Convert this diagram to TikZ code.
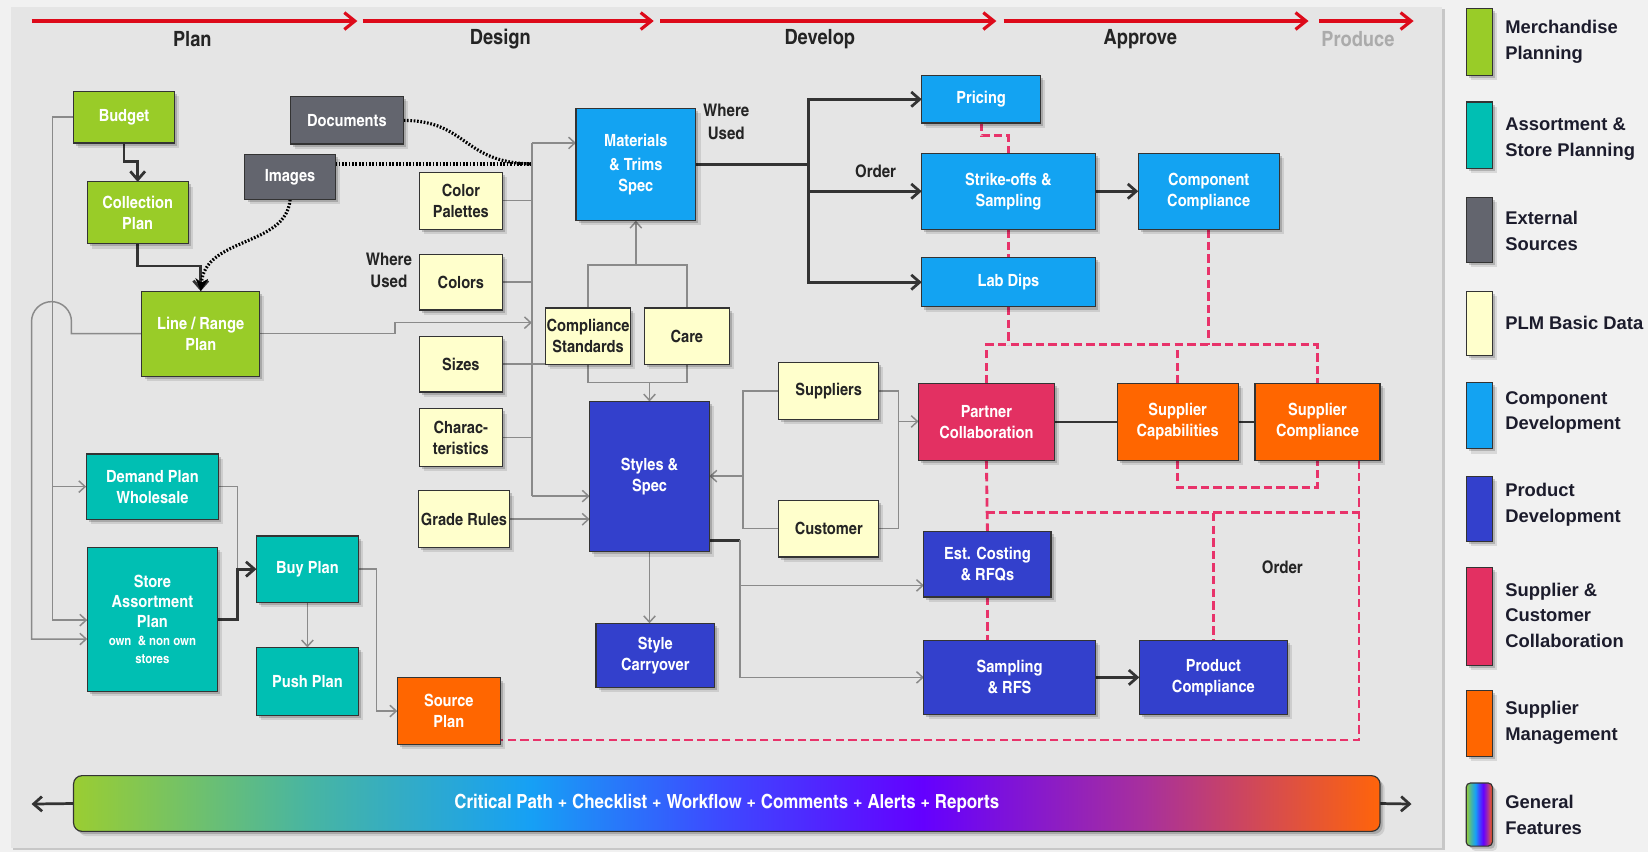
\documentclass[tikz,border=0pt]{standalone}
\usepackage{fontspec}
\setmainfont{Liberation Sans}
\newfontfamily\cnf{texgyreheroscn-bold.otf}[FakeStretch=1.06]
\newfontfamily\lgf{Liberation Sans}
\usetikzlibrary{arrows.meta,shadows}
\pgfdeclarelayer{back}
\pgfdeclarelayer{lines}
\pgfsetlayers{back,lines,main}

\definecolor{cOuter}{HTML}{F1F1F1}
\definecolor{cPanel}{HTML}{E5E5E5}
\definecolor{cLine}{HTML}{333333}
\definecolor{cGray}{HTML}{8A8A8A}
\definecolor{cDark}{HTML}{242424}
\definecolor{cLgText}{HTML}{1C1C2C}
\definecolor{cRed}{HTML}{DD0A1A}
\definecolor{cPink}{HTML}{E8336A}
\definecolor{cMerch}{HTML}{99CC28}
\definecolor{cAssort}{HTML}{00BFB3}
\definecolor{cExt}{HTML}{63656E}
\definecolor{cPLM}{HTML}{FFFFCC}
\definecolor{cComp}{HTML}{13A3F2}
\definecolor{cProd}{HTML}{3340CC}
\definecolor{cCollab}{HTML}{E33062}
\definecolor{cSupMgmt}{HTML}{FF6600}
% colours of the "general features" band
\definecolor{fgA}{HTML}{9ACD32}
\definecolor{fgB}{HTML}{48B5A2}
\definecolor{fgC}{HTML}{16A0F5}
\definecolor{fgD}{HTML}{3C4CFF}
\definecolor{fgE}{HTML}{6400FF}
\definecolor{fgF}{HTML}{A8309C}
\definecolor{fgG}{HTML}{FF640A}
\pgfdeclarehorizontalshading{featbar}{100bp}{color(0bp)=(fgA); color(25bp)=(fgA); color(34bp)=(fgB); color(42.5bp)=(fgC); color(49.5bp)=(fgD); color(57.5bp)=(fgE); color(66bp)=(fgF); color(75bp)=(fgG); color(100bp)=(fgG)}

\begin{document}
\begin{tikzpicture}[x=1pt,y=-1pt,
  font=\cnf\fontsize{16}{20}\selectfont,
  softshadow/.style={
    general shadow={fill=black, opacity=.10, shadow xshift=4.5pt, shadow yshift=-4.5pt},
    general shadow={fill=black, opacity=.18, shadow xshift=2.5pt, shadow yshift=-2.5pt}},
  box/.style={draw=cLine, line width=1.1pt, inner sep=2pt, outer sep=0pt,
    anchor=north west, align=center, text=white, softshadow},
  mpbox/.style={box, fill=cMerch},
  asbox/.style={box, fill=cAssort},
  exbox/.style={box, fill=cExt},
  plbox/.style={box, fill=cPLM, text=cDark},
  cdbox/.style={box, fill=cComp},
  pdbox/.style={box, fill=cProd},
  scbox/.style={box, fill=cCollab},
  smbox/.style={box, fill=cSupMgmt},
  gline/.style={draw=cGray, line width=1.4pt},
  garrow/.style={gline, -{Straight Barb[length=6pt,width=11pt]}},
  dline/.style={draw=cLine, line width=2.6pt},
  darrow/.style={dline, -{Straight Barb[length=8pt,width=14pt]}},
  pdash/.style={draw=cPink, line width=2.7pt, dash pattern=on 8pt off 4pt},
  dotline/.style={draw=black, line width=3pt, dash pattern=on 1.6pt off 1.6pt},
  phase/.style={draw=cRed, line width=3pt, -{Straight Barb[length=10pt,width=16pt]}},
  phlabel/.style={font=\cnf\fontsize{20}{22}\selectfont, text=cDark},
  note/.style={font=\cnf\fontsize{16.5}{21}\selectfont, text=cDark, align=center, inner sep=0pt},
  lgbox/.style={box, minimum width=25pt},
  lgtext/.style={anchor=west, align=left, inner sep=0pt, text=cLgText,
    font=\lgf\bfseries\fontsize{17.5}{24.5}\selectfont}
]
\useasboundingbox (0,0) rectangle (1568,811);

% ---------- page and panel ----------
\begin{pgfonlayer}{back}
  \fill[cOuter] (0,0) rectangle (1568,811);
  \fill[black!22] (12,9) rectangle (1375,809);
  \fill[cPanel] (10,7) rectangle (1372,807);
\end{pgfonlayer}

% ---------- phases ----------
\draw[phase] (30,20) -- (340,20);
\draw[phase] (345,20) -- (622,20);
\draw[phase] (628,20) -- (948,20);
\draw[phase] (955,20) -- (1245,20);
\draw[phase] (1255,20) -- (1345,20);
\node[phlabel] (phPlan) at (183,37) {Plan};
\node[phlabel] (phDesign) at (476,37) {Design};
\node[phlabel] (phDevelop) at (780,37) {Develop};
\node[phlabel] (phApprove) at (1085,37) {Approve};
\node[phlabel, text=black!33] (phProduce) at (1292,37) {Produce};

% ---------- merchandise planning ----------
\node[mpbox, minimum width=96pt, minimum height=49pt] (budget) at (70,87) {Budget};
\node[mpbox, minimum width=96pt, minimum height=59pt] (collection) at (83,173) {Collection\\Plan};
\node[mpbox, minimum width=112pt, minimum height=81pt] (linerange) at (135,277) {Line / Range\\Plan};

% ---------- external sources ----------
\node[exbox, minimum width=108pt, minimum height=45pt] (documents) at (276,92) {Documents};
\node[exbox, minimum width=86pt, minimum height=43pt] (images) at (233,147) {Images};

% ---------- PLM basic data ----------
\node[plbox, minimum width=79pt, minimum height=54pt] (colorpal) at (399,164) {Color\\Palettes};
\node[plbox, minimum width=79pt, minimum height=53pt] (colors) at (399,242) {Colors};
\node[plbox, minimum width=79pt, minimum height=53pt] (sizes) at (399,320) {Sizes};
\node[plbox, minimum width=79pt, minimum height=55pt] (charac) at (399,389) {Charac-\\teristics};
\node[plbox, minimum width=87pt, minimum height=54pt] (grade) at (398,467) {Grade Rules};
\node[plbox, minimum width=81pt, minimum height=54pt, inner sep=0pt] (compstd) at (519,293) {Compliance\\Standards};
\node[plbox, minimum width=81pt, minimum height=54pt] (care) at (613,293) {Care};
\node[plbox, minimum width=95pt, minimum height=54pt] (suppliers) at (741,345) {Suppliers};
\node[plbox, minimum width=95pt, minimum height=54pt] (customer) at (741,476) {Customer};

% ---------- component development ----------
\node[cdbox, minimum width=114pt, minimum height=107pt] (materials) at (548,103) {Materials\\[3pt]\& Trims\\Spec};
\node[cdbox, minimum width=113pt, minimum height=45pt] (pricing) at (877,72) {Pricing};
\node[cdbox, minimum width=165pt, minimum height=72pt] (strike) at (877,146) {Strike-offs \&\\Sampling};
\node[cdbox, minimum width=134pt, minimum height=72pt] (compcompl) at (1083,146) {Component\\Compliance};
\node[cdbox, minimum width=165pt, minimum height=47pt] (labdips) at (877,245) {Lab Dips};

% ---------- product development ----------
\node[pdbox, minimum width=114pt, minimum height=143pt] (styles) at (561,382) {Styles \&\\Spec};
\node[pdbox, minimum width=113pt, minimum height=61pt] (carryover) at (567,593) {Style\\Carryover};
\node[pdbox, minimum width=121pt, minimum height=62pt] (estcost) at (879,506) {Est. Costing\\\& RFQs};
\node[pdbox, minimum width=163pt, minimum height=71pt] (sampling) at (879,609) {Sampling\\\& RFS};
\node[pdbox, minimum width=141pt, minimum height=71pt] (prodcompl) at (1084,609) {Product\\Compliance};

% ---------- collaboration and supplier management ----------
\node[scbox, minimum width=129pt, minimum height=73pt] (partner) at (874,365) {Partner\\Collaboration};
\node[smbox, minimum width=115pt, minimum height=73pt] (supcap) at (1063,365) {Supplier\\Capabilities};
\node[smbox, minimum width=119pt, minimum height=73pt] (supcompl) at (1194,365) {Supplier\\Compliance};
\node[smbox, minimum width=98pt, minimum height=63pt] (source) at (378,645) {Source\\Plan};

% ---------- assortment and store planning ----------
\node[asbox, minimum width=97pt, minimum height=63pt] (buy) at (244,510) {Buy Plan};
\node[asbox, minimum width=97pt, minimum height=65pt] (push) at (244,616) {Push Plan};
\node[asbox, minimum width=126pt, minimum height=62pt] (demand) at (82,432) {Demand Plan\\Wholesale};
\node[asbox, minimum width=124pt, minimum height=137pt] (store) at (83,521)
  {Store\\[-1pt]Assortment\\[-1pt]Plan\\[-3pt]{\fontsize{12.5}{16}\selectfont own \ \& non own}\\[-3pt]{\fontsize{12.5}{15}\selectfont stores}};

% ---------- free labels ----------
\node[note] (wuColors) at (370,257) {Where\\Used};
\node[note] (wuMaterials) at (691,116) {Where\\Used};
\node[note] (orderTop) at (833,163) {Order};
\node[note] (orderBottom) at (1220,540) {Order};

% ---------- general features band ----------
\node[draw=cLine, line width=1.1pt, rounded corners=8pt, shade, shading=featbar, shading angle=0,
      minimum width=1243pt, minimum height=53pt, anchor=north west, inner sep=0pt, outer sep=0pt,
      text=white, font=\cnf\fontsize{18.5}{20}\selectfont, softshadow]
  (features) at (70,738) {Critical Path + Checklist + Workflow + Comments + Alerts + Reports};
\coordinate (featL) at (30,765);
\coordinate (featR) at (1343,765);

% ---------- legend ----------
\node[lgbox, fill=cMerch, minimum height=64pt] (lgMerch) at (1395,8) {};
\node[lgbox, fill=cAssort, minimum height=63pt] (lgAssort) at (1395,97) {};
\node[lgbox, fill=cExt, minimum height=62pt] (lgExt) at (1395,188) {};
\node[lgbox, fill=cPLM, minimum height=61pt] (lgPLM) at (1395,277) {};
\node[lgbox, fill=cComp, minimum height=63pt] (lgComp) at (1395,364) {};
\node[lgbox, fill=cProd, minimum height=62pt] (lgProd) at (1395,453) {};
\node[lgbox, fill=cCollab, minimum height=93pt] (lgCollab) at (1395,540) {};
\node[lgbox, fill=cSupMgmt, minimum height=63pt] (lgSupMgmt) at (1395,657) {};
\node[lgbox, shade, shading=featbar, shading angle=0, rounded corners=4pt, minimum height=60pt] (lgGeneral) at (1395,745) {};
\node[lgtext] (lgMerchT) at (1432,40) {Merchandise\\Planning};
\node[lgtext] (lgAssortT) at (1432,132) {Assortment \&\\Store Planning};
\node[lgtext] (lgExtT) at (1432,219.5) {External\\Sources};
\node[lgtext] (lgPLMT) at (1432,307) {PLM Basic Data};
\node[lgtext] (lgCompT) at (1432,392.5) {Component\\Development};
\node[lgtext] (lgProdT) at (1432,480) {Product\\Development};
\node[lgtext] (lgCollabT) at (1432,585.5) {Supplier \&\\Customer\\Collaboration};
\node[lgtext] (lgSupMgmtT) at (1432,688) {Supplier\\Management};
\node[lgtext] (lgGeneralT) at (1432,775.5) {General\\Features};

% ---------- connectors ----------
\coordinate (busTop) at (506,136);
\coordinate (busBot) at (506,472);
\coordinate (busLR) at (506,307);
\coordinate (dotEnd) at (506,156);
\coordinate (lA) at (50,590);
\coordinate (lB) at (30,608);
\coordinate (buyJ) at (226,541.5);
\coordinate (srcJ) at (358,676.5);
\coordinate (ccTop) at (605,252);
\coordinate (ccBot) at (618,364);
\coordinate (scL) at (707,453);
\coordinate (scR) at (855,401);
\coordinate (stJ) at (704,514);
\coordinate (stE) at (704,557);
\coordinate (mJ) at (769,156.5);
\coordinate (yA) at (0,328);
\coordinate (yB) at (0,464);
\coordinate (yC) at (0,488);
\coordinate (yD) at (0,704);
\coordinate (pR) at (1293,0);

\begin{pgfonlayer}{lines}
  % planning chain
  \draw[darrow] (budget.south) -- ++(0,18) -| (collection.north);
  \draw[darrow] (collection.south) -- ++(0,21) -| (linerange.north);
  \draw[dotline, -{Stealth[length=12pt,width=12pt]}] (images.south) .. controls (272,235) and (195,225) .. (linerange.north);
  \draw[dotline] (images.east |- dotEnd) -- (dotEnd);
  \draw[dotline] (documents.east) .. controls (445,115) and (440,155) .. (dotEnd);

  % left feeds into assortment planning
  \draw[garrow] (budget.west) -| (lA) -- (lA -| store.west);
  \draw[garrow] (demand.west -| lA) -- (demand.west);
  \draw[garrow] (linerange.west) -- (68,317.5) -- (68,306) arc[start angle=0, end angle=-180, radius=19] -- (lB) -- (lB -| store.west);
  \draw[gline] (demand.east) -| (buyJ);
  \draw[darrow] (store.east) -| (buyJ) -- (buy.west);
  \draw[garrow] (buy.south) -- (push.north);
  \draw[garrow] (buy.east) -| (srcJ) -- (source.west);

  % basic data bus
  \draw[gline] (busTop) -- (busBot);
  \draw[garrow] (busTop) -- (busTop -| materials.west);
  \draw[garrow] (busBot) -- (busBot -| styles.west);
  \draw[garrow] (linerange.east) -| (376,307) -- (busLR);
  \draw[gline] (colorpal.east) -- (colorpal.east -| busTop);
  \draw[gline] (colors.east) -- (colors.east -| busTop);
  \draw[gline] (sizes.east) -- (sizes.east -| compstd.west);
  \draw[gline] (charac.east) -- (charac.east -| busTop);
  \draw[garrow] (grade.east) -- (grade.east -| styles.west);

  % compliance standards and care
  \draw[gline] (compstd.north) |- (ccTop) -| (care.north);
  \draw[garrow] (ccTop) -- (materials.south);
  \draw[gline] (compstd.south) |- (ccBot) -| (care.south);
  \draw[garrow] (ccBot) -- (styles.north);
  \draw[garrow] (styles.south) -- (styles.south |- carryover.north);

  % suppliers and customers
  \draw[gline] (suppliers.west) -| (scL) |- (customer.west);
  \draw[garrow] (scL) -- (scL -| styles.east);
  \draw[gline] (suppliers.east) -| (scR) |- (customer.east);
  \draw[garrow] (scR) -- (scR -| partner.west);

  % styles to costing and sampling
  \draw[dline] (styles.east |- stJ) -- (stJ);
  \draw[garrow] (stJ) |- (sampling.west);
  \draw[garrow] (stE) -- (stE -| estcost.west);

  % component development
  \draw[dline] (materials.east) -- (mJ);
  \draw[darrow] (mJ) |- (pricing.west);
  \draw[darrow] (mJ) |- (labdips.west);
  \draw[darrow] (mJ |- strike.west) -- (strike.west);
  \draw[darrow] (strike.east) -- (compcompl.west);
  \draw[darrow] (sampling.east) -- (prodcompl.west);
  \draw[dline] (partner.east) -- (supcap.west);
  \draw[dline] (supcap.east) -- (supcompl.west);

  % collaboration links
  \draw[pdash] (pricing.south) -- ++(0,12) -| (strike.north);
  \draw[pdash] (strike.south) -- (labdips.north);
  \draw[pdash] (labdips.south) -- (labdips.south |- yA);
  \draw[pdash] (partner.north) |- (supcompl.north |- yA) -- (supcompl.north);
  \draw[pdash] (supcap.north) -- (supcap.north |- yA);
  \draw[pdash] (compcompl.south) -- (compcompl.south |- yA);
  \draw[pdash] (supcap.south) |- (supcompl.south |- yB) -- (supcompl.south);
  \draw[pdash] (partner.south) -- (estcost.north);
  \draw[pdash] (partner.south |- yC) -- (pR |- yC);
  \draw[pdash] (pR |- supcompl.south) |- (source.east |- yD);
  \draw[pdash] (prodcompl.north |- yC) -- (prodcompl.north);
  \draw[pdash] (estcost.south) -- (estcost.south |- sampling.north);

  % general features band
  \draw[darrow] (features.west) -- (featL);
  \draw[darrow] (features.east) -- (featR);
\end{pgfonlayer}
\end{tikzpicture}
\end{document}
